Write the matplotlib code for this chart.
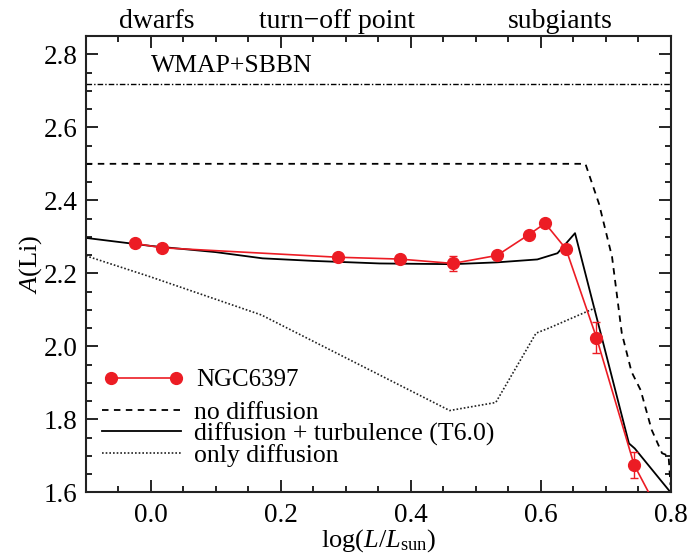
""" Li abundance vs luminosity for NGC6397 with diffusion models """
import numpy as np
import matplotlib
matplotlib.use('Agg')
import matplotlib.pyplot as plt
from matplotlib.lines import Line2D
from matplotlib.ticker import MultipleLocator
import matplotlib.transforms as mtrans

plt.rcParams['font.family'] = ['Liberation Serif', 'DejaVu Serif']
plt.rcParams['mathtext.fontset'] = 'custom'
plt.rcParams['mathtext.rm'] = 'Liberation Serif'
plt.rcParams['mathtext.it'] = 'Liberation Serif:italic'

#%% donnees lues sur la figure
# amas NGC6397
obs_logL = [-0.025, 0.017, 0.288, 0.383, 0.465, 0.533, 0.582, 0.607, 0.639, 0.686, 0.744, 0.79]
obs_ALi = [2.282, 2.270, 2.244, 2.239, 2.227, 2.249, 2.306, 2.337, 2.267, 2.024, 1.675, 1.52]
obs_err = [0.010, 0.010, 0.010, 0.010, 0.020, 0.010, 0.008, 0.008, 0.010, 0.042, 0.036, 0.03]

# modele diffusion + turbulence (T6.0)
turb_logL = [-0.1, 0.0, 0.1, 0.172, 0.25, 0.352, 0.465, 0.533, 0.595, 0.626, 0.653, 0.736, 0.745, 0.8]
turb_ALi = [2.297, 2.275, 2.258, 2.241, 2.234, 2.227, 2.225, 2.230, 2.238, 2.255, 2.310, 1.734, 1.720, 1.60]

# modele sans diffusion
nodiff_logL = [-0.1, 0.669, 0.69, 0.71, 0.725, 0.74, 0.754, 0.771, 0.787, 0.797, 0.80]
nodiff_ALi = [2.50, 2.50, 2.39, 2.245, 2.036, 1.93, 1.88, 1.771, 1.707, 1.70, 1.62]

# modele diffusion seule
diff_logL = [-0.1, 0.0, 0.17, 0.46, 0.531, 0.593, 0.613, 0.684]
diff_ALi = [2.248, 2.19, 2.086, 1.824, 1.846, 2.036, 2.05, 2.105]

wmap_ALi = 2.72
regions = ['dwarfs', 'turn\u2212off point', 'subgiants']
region_logL = [0.009, 0.287, 0.631]

red = '#ec1c24'

#%% figure
fig = plt.figure(figsize=(6.87, 5.55), dpi=100)
ax = fig.add_axes([0.125, 0.113, 0.851, 0.822])

ax.axhline(wmap_ALi, color='k', lw=1.0, ls=(0, (4, 1.5, 1, 1.5)))
ax.text(0.0, 2.768, 'WMAP+SBBN', fontsize=18.5, va='center', ha='left')

ax.plot(nodiff_logL, nodiff_ALi, color='k', lw=1.3, ls=(0, (3.6, 3.0)))
ax.plot(turb_logL, turb_ALi, color='k', lw=1.3)
ax.plot(diff_logL, diff_ALi, color='#222222', lw=1.2, ls=(0, (1, 1.2)))
ax.errorbar(obs_logL, obs_ALi, yerr=obs_err, color=red, lw=1.2, marker='o', ms=8.5,
            capsize=3, elinewidth=1.0, zorder=5)

ax.set_xlim(-0.1, 0.8)
ax.set_ylim(1.6, 2.85)
ax.xaxis.set_major_locator(MultipleLocator(0.2))
ax.xaxis.set_minor_locator(MultipleLocator(0.05))
ax.yaxis.set_major_locator(MultipleLocator(0.2))
ax.yaxis.set_minor_locator(MultipleLocator(0.05))
ax.tick_params(which='both', direction='in', top=True, right=True, labelsize=19.5, width=1.2)
ax.tick_params(which='major', length=8.5)
ax.tick_params(axis='x', which='major', pad=8)
ax.tick_params(axis='y', which='major', pad=6)
ax.tick_params(which='minor', length=4.5)
for sp in ax.spines.values():
    sp.set_linewidth(1.5)
    sp.set_color('#222222')

ax.set_xlabel(r'log($\mathit{L}/\mathit{L}_{\mathrm{sun}}$)', fontsize=19, labelpad=-1)
ax.set_ylabel(r'$\mathit{A}$(Li)', fontsize=19, labelpad=0)

trans = mtrans.blended_transform_factory(ax.transData, ax.transAxes)
for name, xpos in zip(regions, region_logL):
    ax.text(xpos, 1.0175, name, transform=trans, ha='center', va='baseline', fontsize=20)

# legendes
h_obs = Line2D([], [], color=red, lw=1.2, marker='o', ms=8.5)
leg1 = ax.legend([h_obs], ['NGC6397'], loc='center left', bbox_to_anchor=(0.03, 0.246),
                 frameon=False, fontsize=18, numpoints=2, handlelength=3.2,
                 handletextpad=0.5, borderpad=0, borderaxespad=0)
ax.add_artist(leg1)
h_lines = [Line2D([], [], color='k', lw=1.3, ls=(0, (3.6, 3.0))),
           Line2D([], [], color='k', lw=1.3),
           Line2D([], [], color='#222222', lw=1.2, ls=(0, (1, 1.2)))]
ax.legend(h_lines, ['no diffusion', 'diffusion + turbulence (T6.0)', 'only diffusion'],
          loc='center left', bbox_to_anchor=(0.027, 0.128), frameon=False, fontsize=18.5,
          handlelength=3.1, handletextpad=0.5, labelspacing=-0.07, borderpad=0,
          borderaxespad=0)

plt.savefig('out.png', dpi=100)
